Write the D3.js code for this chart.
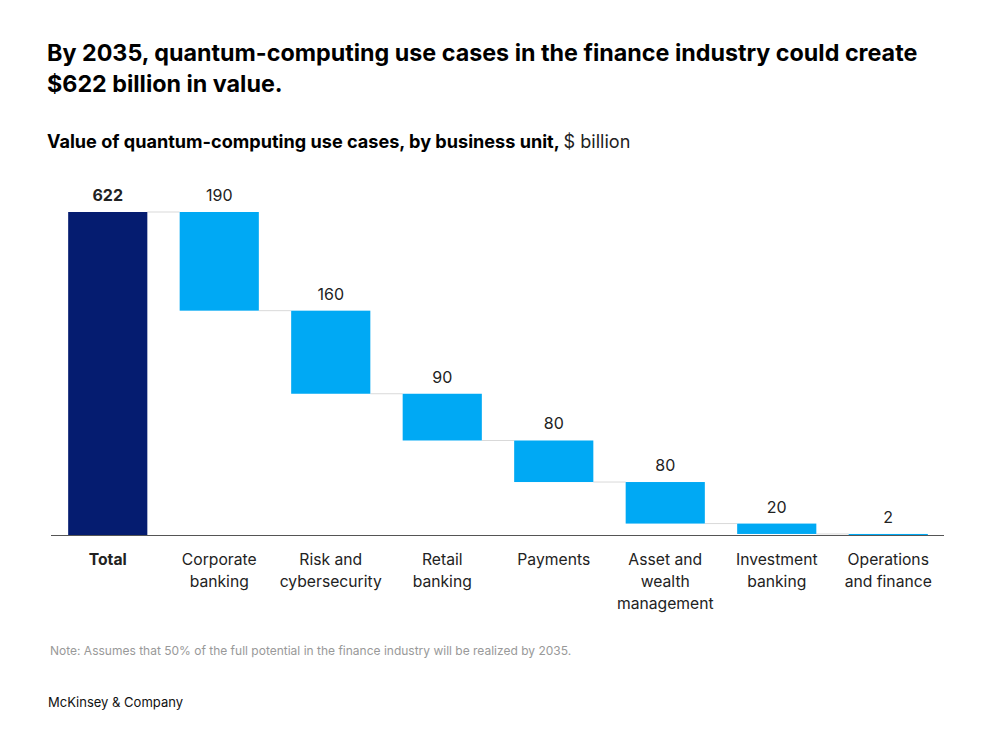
<!DOCTYPE html>
<html>
<head>
<meta charset="utf-8">
<script src="https://cdn.jsdelivr.net/npm/d3@7"></script>
<style>
  body { margin: 0; background: #fff; font-family: Inter, "Noto Sans", sans-serif; }
  #chart { width: 993px; height: 752px; }
  .title { font-size: 23.3px; font-weight: 700; fill: #000; }
  .subtitle { font-size: 18.1px; font-weight: 700; fill: #000; }
  .subtitle .unit { font-weight: 400; fill: #222; }
  .valueLabel { font-size: 16px; fill: #222; }
  .catLabel { font-size: 15.7px; fill: #222; }
  .note { font-size: 12px; fill: #999; }
  .source { font-size: 13px; fill: #111; }
</style>
</head>
<body>
<div id="chart"></div>
<script>
// Data

const categories = ["Total", "Corporate banking", "Risk and cybersecurity", "Retail banking",
    "Payments", "Asset and wealth management", "Investment banking", "Operations and finance"];
const labelLines = [["Total"], ["Corporate", "banking"], ["Risk and", "cybersecurity"], ["Retail", "banking"],
    ["Payments"], ["Asset and", "wealth", "management"], ["Investment", "banking"], ["Operations", "and finance"]];
const values = [622, 190, 160, 90, 80, 80, 20, 2];

// 1. Canvas

const width = 993;
const height = 752;

const svg = d3.select("#chart")
    .append("svg")
    .attr("width", width)
    .attr("height", height);

// 2. Waterfall steps: total bar, then each unit steps down from the previous top

let running = values[0];
const steps = categories.map(function(c, i) {
    if (i === 0) return { cat: c, value: values[i], y0: 0, y1: values[i], total: true };
    const top = running;
    running -= values[i];
    return { cat: c, value: values[i], y0: running, y1: top, total: false };
});

// 3. Scales

const xScale = d3.scaleBand()
    .domain(categories)
    .range([52, 944])
    .paddingInner(0.29)
    .paddingOuter(0.145);

const yScale = d3.scaleLinear()
    .domain([0, 622])
    .range([535, 212]);

// 4. Titles

svg.append("text").attr("class", "title").attr("x", 47).attr("y", 61)
    .text("By 2035, quantum-computing use cases in the finance industry could create");
svg.append("text").attr("class", "title").attr("x", 47).attr("y", 92)
    .text("$622 billion in value.");

const sub = svg.append("text").attr("class", "subtitle").attr("x", 47).attr("y", 148);
sub.append("tspan").text("Value of quantum-computing use cases, by business unit, ");
sub.append("tspan").attr("class", "unit").text("$ billion");

// 5. Connector lines between steps

svg.selectAll("line.connector")
    .data(steps.slice(0, -1))
    .enter()
    .append("line")
        .attr("class", "connector")
        .attr("x1", function(d) { return xScale(d.cat) + xScale.bandwidth(); })
        .attr("x2", function(d, i) { return xScale(categories[i + 1]); })
        .attr("y1", function(d) { return yScale(d.total ? d.y1 : d.y0); })
        .attr("y2", function(d) { return yScale(d.total ? d.y1 : d.y0); })
        .attr("stroke", "#d9d9d9")
        .attr("stroke-width", 1);

// 6. Bars

svg.selectAll("rect.bar")
    .data(steps)
    .enter()
    .append("rect")
        .attr("class", "bar")
        .attr("x", function(d) { return xScale(d.cat); })
        .attr("y", function(d) { return yScale(d.y1); })
        .attr("width", xScale.bandwidth())
        .attr("height", function(d) { return yScale(d.y0) - yScale(d.y1); })
        .attr("fill", function(d) { return d.total ? "#051c70" : "#00a9f4"; });

// 7. Axis baseline

svg.append("line")
    .attr("x1", 51)
    .attr("x2", 944)
    .attr("y1", yScale(0) + 0.5)
    .attr("y2", yScale(0) + 0.5)
    .attr("stroke", "#555")
    .attr("stroke-width", 1.2);

// 8. Value labels

svg.selectAll("text.valueLabel")
    .data(steps)
    .enter()
    .append("text")
        .attr("class", "valueLabel")
        .attr("x", function(d) { return xScale(d.cat) + xScale.bandwidth() / 2; })
        .attr("y", function(d) { return yScale(d.y1) - 11; })
        .attr("text-anchor", "middle")
        .style("font-weight", function(d) { return d.total ? 700 : 400; })
        .text(function(d) { return d.value; });

// 9. Category labels

const catText = svg.selectAll("text.catLabel")
    .data(categories)
    .enter()
    .append("text")
        .attr("class", "catLabel")
        .attr("text-anchor", "middle")
        .attr("x", function(d) { return xScale(d) + xScale.bandwidth() / 2; })
        .attr("y", 565)
        .style("font-weight", function(d, i) { return i === 0 ? 700 : 400; });

catText.selectAll("tspan")
    .data(function(d, i) { return labelLines[i]; })
    .enter()
    .append("tspan")
        .attr("x", function() { return d3.select(this.parentNode).attr("x"); })
        .attr("dy", function(d, i) { return i === 0 ? 0 : 22; })
        .text(function(d) { return d; });

// 10. Note and source

svg.append("text").attr("class", "note").attr("x", 50).attr("y", 655)
    .text("Note: Assumes that 50% of the full potential in the finance industry will be realized by 2035.");
svg.append("text").attr("class", "source").attr("x", 48).attr("y", 707)
    .text("McKinsey & Company");
</script>
</body>
</html>
